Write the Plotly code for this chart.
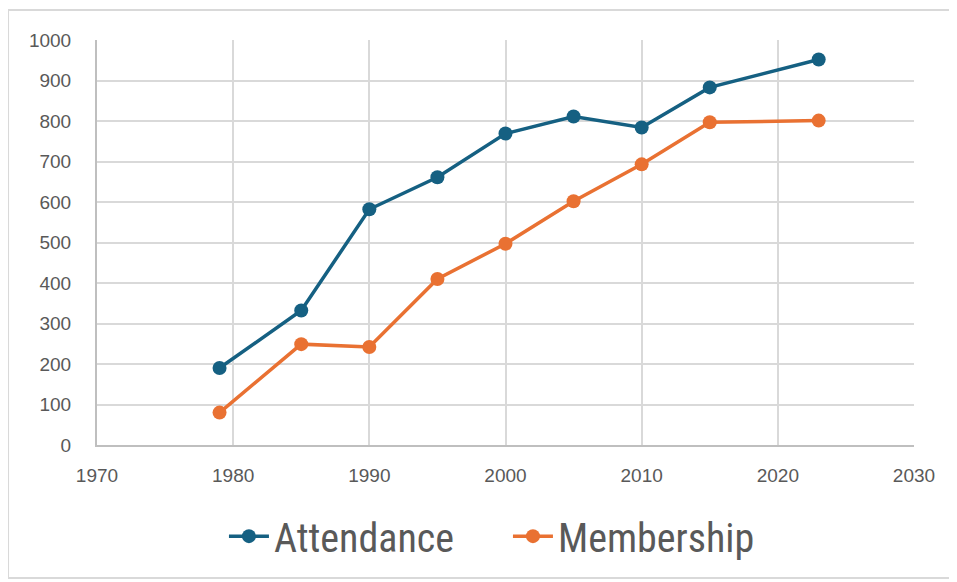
import plotly.graph_objects as go

years = [1979, 1985, 1990, 1995, 2000, 2005, 2010, 2015, 2023]
attendance = [190, 332, 582, 661, 769, 811, 784, 883, 952]
membership = [80, 249, 242, 410, 497, 602, 693, 797, 801]

x_ticks = [1970, 1980, 1990, 2000, 2010, 2020, 2030]
y_ticks = [0, 100, 200, 300, 400, 500, 600, 700, 800, 900, 1000]

fig = go.Figure()
fig.add_trace(go.Scatter(x=years, y=attendance, name="Attendance", mode="lines+markers",
                         line=dict(color="#156082", width=3.5),
                         marker=dict(color="#156082", size=14)))
fig.add_trace(go.Scatter(x=years, y=membership, name="Membership", mode="lines+markers",
                         line=dict(color="#E97132", width=3.5),
                         marker=dict(color="#E97132", size=14)))

axis_font = dict(family="Liberation Sans, Arial, sans-serif", size=19, color="#595959")
fig.update_layout(
    width=943, height=574,
    margin=dict(l=89, r=37, t=32, b=137),
    paper_bgcolor="white", plot_bgcolor="white",
    xaxis=dict(range=[1970, 2030], tickvals=x_ticks, showgrid=True, gridcolor="#D9D9D9", gridwidth=2,
               showline=True, linecolor="#BFBFBF", linewidth=2, zeroline=False,
               tickfont=axis_font, ticks="", ticklabelstandoff=12),
    yaxis=dict(range=[0, 1000], tickvals=y_ticks, showgrid=True, gridcolor="#D9D9D9", gridwidth=2,
               showline=True, linecolor="#BFBFBF", linewidth=2, zeroline=False,
               tickfont=axis_font, ticks="", ticklabelstandoff=20),
    legend=dict(orientation="h", x=0.503, xanchor="center", y=-0.225, yanchor="middle",
                font=dict(family="Liberation Sans Narrow, Roboto Condensed, Liberation Sans, sans-serif",
                          size=40, color="#595959"),
                itemwidth=40, entrywidth=229, traceorder="normal"),
    showlegend=True,
    shapes=[dict(type="rect", xref="paper", yref="paper",
                 x0=-0.1089, x1=1.0441, y0=-0.3284, y1=1.074,
                 line=dict(color="#D9D9D9", width=2), layer="below")],
)
fig.write_html("out.html")
